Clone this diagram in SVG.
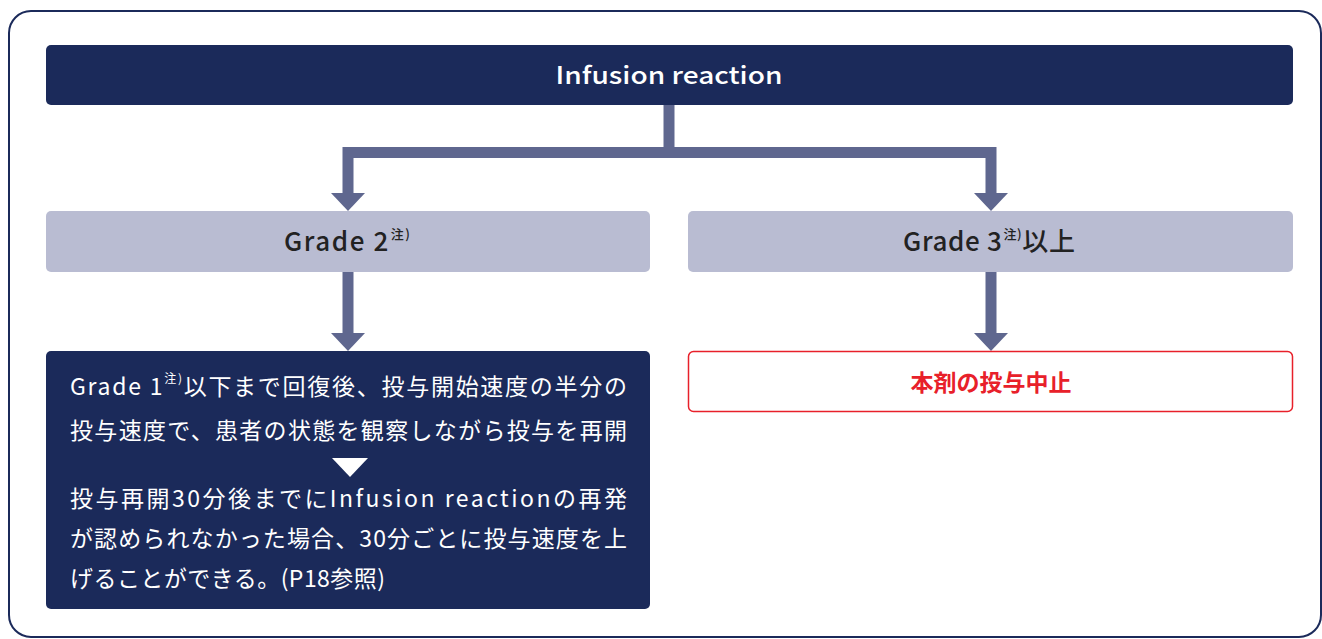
<svg xmlns="http://www.w3.org/2000/svg" width="1322" height="639" viewBox="0 0 1322 639">
  <style>
    .t { font-family: "Noto Sans CJK JP", "Noto Sans", sans-serif; }
    .dark { fill: #1b2a5a; }
    .light { fill: #b9bcd2; }
    .conn { fill: none; stroke: #5f678f; stroke-width: 11; stroke-linejoin: miter; }
    .head { fill: #5f678f; }
    .w { fill: #ffffff; }
  </style>
  <rect x="9" y="11" width="1312" height="626" rx="22" fill="#ffffff" stroke="#1b2a5a" stroke-width="2"/>

  <g id="connectors">
    <path class="conn" d="M669,105 V152.5"/>
    <path class="conn" d="M348,194 V152.5 H991 V194"/>
    <polygon class="head" points="331,193 365,193 348,211"/>
    <polygon class="head" points="974,193 1008,193 991,211"/>
    <path class="conn" d="M348,272 V334"/>
    <polygon class="head" points="331,333 365,333 348,351"/>
    <path class="conn" d="M991,272 V334"/>
    <polygon class="head" points="974,333 1008,333 991,351"/>
  </g>

  <g id="node-infusion">
    <rect class="dark" x="46" y="45" width="1247" height="60" rx="5"/>
    <text class="t w" x="669" y="84" font-size="24" font-weight="500" text-anchor="middle" textLength="227" lengthAdjust="spacingAndGlyphs">Infusion reaction</text>
  </g>

  <g id="node-grade2">
    <rect class="light" x="46" y="211" width="604" height="61" rx="5"/>
    <text class="t" x="284" y="251" font-size="26" font-weight="500" fill="#222222" textLength="126" lengthAdjust="spacing">Grade 2<tspan font-size="13" dy="-12" dx="1">注)</tspan></text>
  </g>

  <g id="node-grade3">
    <rect class="light" x="688" y="211" width="605" height="61" rx="5"/>
    <text class="t" x="903" y="251" font-size="26" font-weight="500" fill="#222222" textLength="172" lengthAdjust="spacing">Grade 3<tspan font-size="13" dy="-12" dx="1">注)</tspan><tspan dy="12">以上</tspan></text>
  </g>

  <g id="node-resume">
    <rect class="dark" x="46" y="351" width="604" height="258" rx="5"/>
    <text class="t w" x="70" y="395" font-size="23" textLength="557" lengthAdjust="spacing">Grade 1<tspan font-size="12" dy="-12">注)</tspan><tspan dy="12">以下まで回復後、投与開始速度の半分の</tspan></text>
    <text class="t w" x="70" y="439" font-size="23" textLength="557" lengthAdjust="spacing">投与速度で、患者の状態を観察しながら投与を再開</text>
    <polygon class="w" points="332,458 368,458 350,477"/>
    <text class="t w" x="70" y="507" font-size="23" textLength="557" lengthAdjust="spacing">投与再開30分後までにInfusion reactionの再発</text>
    <text class="t w" x="70" y="547" font-size="23" textLength="557" lengthAdjust="spacing">が認められなかった場合、30分ごとに投与速度を上</text>
    <text class="t w" x="70" y="587" font-size="23" textLength="315" lengthAdjust="spacing">げることができる。(P18参照)</text>
  </g>

  <g id="node-stop">
    <rect x="688.5" y="351.5" width="604" height="60" rx="5" fill="#ffffff" stroke="#e8202a" stroke-width="1.5"/>
    <text class="t" x="991" y="391" font-size="23" font-weight="700" fill="#e8202a" text-anchor="middle">本剤の投与中止</text>
  </g>
</svg>
